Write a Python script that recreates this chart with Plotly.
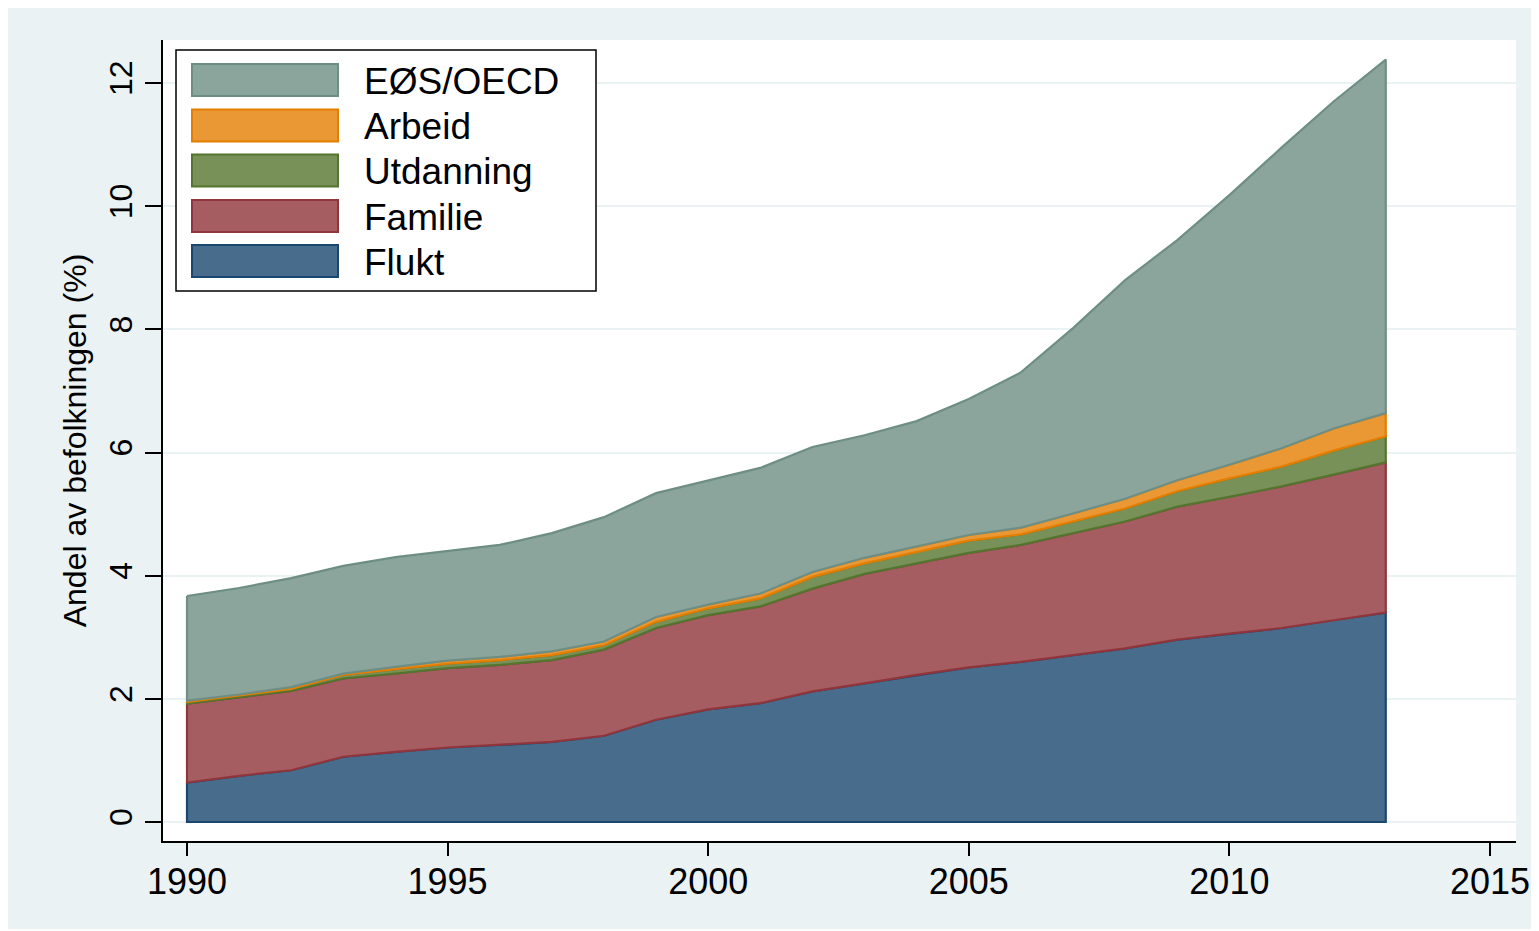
import numpy as np
import plotly.graph_objects as go

# ---- data (share of population, %) ----
years = list(range(1990, 2014))
flukt = [0.64, 0.75, 0.84, 1.06, 1.14, 1.21, 1.25, 1.30, 1.40, 1.66, 1.83, 1.93,
         2.12, 2.25, 2.39, 2.51, 2.60, 2.71, 2.82, 2.96, 3.06, 3.15, 3.28, 3.40]
familie = [1.28, 1.27, 1.29, 1.27, 1.27, 1.29, 1.30, 1.33, 1.40, 1.49, 1.53, 1.57,
           1.67, 1.78, 1.81, 1.86, 1.90, 1.98, 2.06, 2.16, 2.22, 2.30, 2.36, 2.44]
utdanning = [0.03, 0.03, 0.03, 0.06, 0.07, 0.07, 0.08, 0.08, 0.07, 0.10, 0.11, 0.13,
             0.19, 0.17, 0.19, 0.20, 0.17, 0.19, 0.21, 0.25, 0.30, 0.32, 0.39, 0.42]
arbeid = [0.02, 0.02, 0.03, 0.02, 0.04, 0.05, 0.05, 0.06, 0.06, 0.08, 0.06, 0.08,
          0.08, 0.09, 0.08, 0.09, 0.11, 0.13, 0.16, 0.18, 0.22, 0.30, 0.36, 0.38]
eos = [1.70, 1.73, 1.77, 1.75, 1.78, 1.78, 1.82, 1.92, 2.02, 2.01, 2.02, 2.04,
       2.03, 1.99, 2.04, 2.21, 2.52, 3.01, 3.55, 3.90, 4.38, 4.88, 5.31, 5.74]

names = ["Flukt", "Familie", "Utdanning", "Arbeid", "EØS/OECD"]
series = [flukt, familie, utdanning, arbeid, eos]
x_ticks = [1990, 1995, 2000, 2005, 2010, 2015]
y_ticks = [0, 2, 4, 6, 8, 10, 12]

# ---- styles ----
fills = ["#486C8C", "#A65D62", "#779159", "#E99833", "#8BA59D"]
lines = ["#1A476F", "#90353B", "#55752F", "#E37E00", "#6E8E84"]
BG = "#EAF2F3"
FONT = "Liberation Sans, Arial, sans-serif"

fig = go.Figure()

bottom = np.zeros(len(years))
for name, vals, fc, lc in zip(names, series, fills, lines):
    top = bottom + np.array(vals)
    xs = years + years[::-1] + [years[0]]
    ys = list(top) + list(bottom[::-1]) + [top[0]]
    fig.add_trace(go.Scatter(
        x=xs, y=ys, name=name, mode="lines", fill="toself",
        fillcolor=fc, line=dict(color=lc, width=2.2), showlegend=False,
        hoverinfo="skip"))
    bottom = top

# ---- layout geometry (pixels, page has an 8px body margin) ----
OFF = 8
W, H = 1539 - OFF, 931 - OFF
L, R, T, B = 163 - OFF, 1516 - OFF, 40 - OFF, 841 - OFF


def px(xp):
    return (xp - OFF - L) / (R - L)


def py(yp):
    return (B - (yp - OFF)) / (B - T)


shapes = []
# thin white strip at the bottom of the graph region
shapes.append(dict(type="rect", xref="paper", yref="paper", layer="below",
                   x0=px(0), x1=px(1539), y0=py(931), y1=py(929),
                   fillcolor="white", line=dict(width=0)))

# custom legend box
shapes.append(dict(type="rect", xref="paper", yref="paper", layer="above",
                   x0=px(176), x1=px(596), y0=py(291), y1=py(50),
                   fillcolor="white", line=dict(color="black", width=1.5)))

annotations = []
legend_order = [4, 3, 2, 1, 0]
centers = [80, 125.5, 170.5, 216, 261]
for idx, c in zip(legend_order, centers):
    shapes.append(dict(type="rect", xref="paper", yref="paper", layer="above",
                       x0=px(192), x1=px(338), y0=py(c + 16), y1=py(c - 16),
                       fillcolor=fills[idx], line=dict(color=lines[idx], width=2)))
    annotations.append(dict(xref="paper", yref="paper", x=px(362), y=py(c + 1),
                            xanchor="left", yanchor="middle", showarrow=False,
                            text=names[idx],
                            font=dict(family=FONT, size=37, color="black")))

fig.update_layout(
    width=W, height=H,
    margin=dict(l=L, r=W - R, t=T, b=H - B, autoexpand=False),
    paper_bgcolor=BG, plot_bgcolor="white",
    showlegend=False,
    shapes=shapes, annotations=annotations,
    font=dict(family=FONT, color="black"),
)

fig.update_xaxes(
    range=[1990 - 24 / 52.12, 2015 + 26 / 52.12],
    tickmode="array", tickvals=x_ticks, ticktext=[str(v) for v in x_ticks],
    ticks="outside", ticklen=13, tickwidth=1.5, tickcolor="black",
    ticklabelstandoff=-5,
    showgrid=False, zeroline=False,
    showline=True, linecolor="black", linewidth=2,
    tickfont=dict(family=FONT, size=36, color="black"),
)

fig.update_yaxes(
    range=[-19 / 61.583, 12 + 43 / 61.583],
    tickmode="array", tickvals=y_ticks, ticktext=[str(v) for v in y_ticks],
    ticks="outside", ticklen=16, tickwidth=1.5, tickcolor="black",
    tickangle=-90,
    showgrid=True, gridcolor=BG, gridwidth=2, zeroline=False,
    showline=True, linecolor="black", linewidth=2,
    tickfont=dict(family=FONT, size=32, color="black"),
    title=dict(text="Andel av befolkningen (%)", standoff=7,
               font=dict(family=FONT, size=32, color="black")),
)

fig.write_html("out.html")
